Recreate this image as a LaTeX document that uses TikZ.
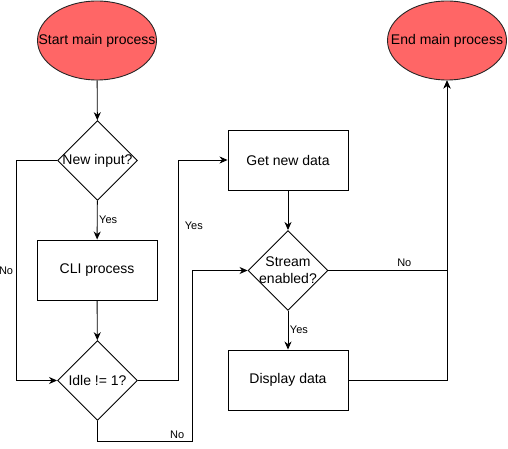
\documentclass[tikz,border=0pt]{standalone}
\usepackage{fontspec}
\setmainfont{Liberation Sans}
\usepackage{tikz}
\usetikzlibrary{arrows.meta,calc,shapes.geometric}

\begin{document}
\begin{tikzpicture}[x=1pt,y=-1pt,line width=0.9pt,
		txt/.style={font=\fontsize{14}{16.8}\selectfont},
		lbl/.style={font=\fontsize{11}{13}\selectfont,inner sep=1.5pt},
		terminal/.style={ellipse,draw=black!85,fill={rgb,255:red,255;green,102;blue,102},minimum width=119pt,minimum height=79pt,inner sep=0pt},
		decision/.style={diamond,draw,minimum width=80pt,minimum height=80pt,inner sep=0pt},
		proc/.style={rectangle,draw,minimum width=120pt,minimum height=60pt,txt},
		flow/.style={-{Stealth[length=8pt,width=7pt,inset=2.5pt]}}]
		\useasboundingbox (0,0) rectangle (508,449);
		\node[terminal,label={[txt]center:Start main process}] (start) at (97,40.5) {};
		\node[terminal,label={[txt]center:End main process}] (stop) at (447,40.5) {};
		\node[decision,label={[txt]center:New input?}] (new) at (97.5,160.5) {};
		\node[proc] (cli) at (97,270) {CLI process};
		\node[decision,label={[txt]center:Idle != 1?}] (idle) at (97.5,380.5) {};
		\node[proc] (get) at (288,160) {Get new data};
		\node[decision,label={[txt,align=center]center:{Stream\\enabled?}}] (stream) at (288,270.5) {};
		\node[proc] (disp) at (288,380) {Display data};
		\draw[flow] (start) -- (new);
		\draw[flow] (new) -- node[lbl,right,pos=.5]{Yes} (cli);
		\draw[flow] (cli) -- (idle);
		\draw[flow] (new.west) -- ++(-40.5,0) |- node[lbl,left,pos=.25,inner sep=3pt]{No} (idle.west);
		\draw[flow] (idle.east) -- ++(40.5,0) |- node[lbl,right,pos=.35,inner sep=6pt]{Yes} (get.west);
		\draw[flow] (idle.south) -- ++(0,20) -| node[lbl,above,pos=.42,inner sep=2pt]{No} ($(stream.west)+(-55.3,0)$) -- (stream.west);
		\draw[flow] (get) -- (stream);
		\draw[flow] (stream) -- node[lbl,right,pos=.5]{Yes} (disp);
		\draw[flow] (stream.east) -| node[lbl,above,pos=.32,inner sep=3pt]{No} (stop.south);
		\draw[flow] (disp.east) -| (stop.south);
	\end{tikzpicture}
\end{document}
